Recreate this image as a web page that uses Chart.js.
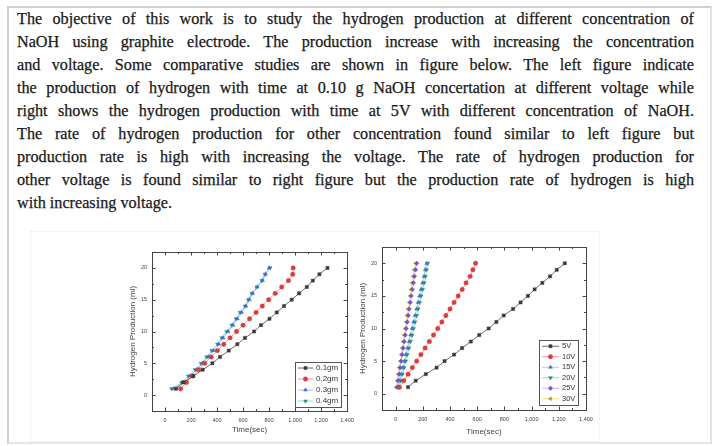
<!DOCTYPE html>
<html><head><meta charset="utf-8">
<script src="https://cdn.jsdelivr.net/npm/chart.js@4"></script>
<style>
html,body{margin:0;padding:0;background:#fff;}
body{width:713px;height:446px;position:relative;overflow:hidden;}
#frame{position:absolute;left:7px;top:6px;width:701px;height:434px;border:2px solid #cfcfcf;border-right-color:#e2e2e2;border-bottom-color:#e6e6e6;}
#text{position:absolute;left:17px;top:8px;width:677px;font-family:"Liberation Serif","Times New Roman",serif;font-size:16.2px;color:#1a1a1a;-webkit-text-stroke:0.25px #1a1a1a;}
#text div{height:23px;line-height:23px;text-align:justify;text-align-last:justify;}
#text div.last{text-align-last:left;}
#figbox{position:absolute;left:30px;top:231px;width:568px;height:209px;border:1px dotted #ececec;}
canvas{position:absolute;}
#c1{left:120px;top:240px;}
#c2{left:350px;top:235px;}
</style>
</head>
<body>
<div id="frame"></div>
<div id="text">
<div>The objective of this work is to study the hydrogen production at different concentration of</div>
<div>NaOH using graphite electrode. The production increase with increasing the concentration</div>
<div>and voltage. Some comparative studies are shown in figure below. The left figure indicate</div>
<div>the production of hydrogen with time at 0.10 g NaOH concertation at different voltage while</div>
<div>right shows the hydrogen production with time at 5V with different concentration of NaOH.</div>
<div>The rate of hydrogen production for other concentration found similar to left figure but</div>
<div>production rate is high with increasing the voltage. The rate of hydrogen production for</div>
<div>other voltage is found similar to right figure but the production rate of hydrogen is high</div>
<div class="last">with increasing voltage.</div>
</div>
<div id="figbox"></div>
<canvas id="c1" width="240" height="205"></canvas>
<canvas id="c2" width="250" height="210"></canvas>
<script>
// ---------- data ----------
const volumeML = [1,2,3,4,5,6,7,8,9,10,11,12,13,14,15,16,17,18,19,20];
const xTickLabels = [0,200,400,600,800,1000,1200,1400];
const yTickLabels = [0,5,10,15,20];
const xTitle = 'Time(sec)';
const yTitle = 'Hydrogen Production (ml)';

// left figure: concentration series (time in sec to reach each volume)
const concLabels = ['0.1gm','0.2gm','0.3gm','0.4gm'];
const time01g = [85,141,218,290,364,423,490,556,615,685,738,803,859,915,974,1031,1090,1136,1187,1249];
const time02g = [120,165,212,258,305,355,403,452,500,550,600,650,700,748,797,847,897,949,982,985];
const time03g = [65,140,192,243,290,333,372,414,447,485,523,556,588,622,648,674,710,750,772,800];
const time04g = [51,128,179,231,277,320,359,403,436,474,513,546,577,615,641,667,705,744,769,808];

// right figure: voltage series
const voltLabels = ['5V','10V','15V','20V','25V','30V'];
const time5V  = [91,148,222,301,360,430,489,553,615,684,741,795,864,919,973,1022,1079,1136,1185,1244];
const time10V = [28,60,92,123,155,186,217,248,279,310,340,370,400,430,460,490,518,548,568,588];
const time15V = [18,30,42,53,65,76,88,99,110,121,132,143,154,165,176,187,198,209,218,228];
const time20V = [25,38,50,62,74,86,98,110,121,132,143,155,166,177,188,199,210,220,228,236];
const time25V = [10,18,26,33,41,48,56,63,71,78,86,93,100,108,115,123,131,139,147,155];
const time30V = [5,13,20,27,35,42,49,56,63,71,78,85,92,100,107,114,121,128,136,148];

// ---------- helpers ----------
const FONT = '"Liberation Sans", Arial, sans-serif';
function toPts(times){ return times.map((t,i)=>({x:t, y:volumeML[i]})); }
function ds(label, times, color, lineColor, style, rot){
  return {label, data: toPts(times), showLine:true, borderColor: lineColor, borderWidth:1,
    backgroundColor: color, pointBackgroundColor: color, pointBorderColor: color,
    pointBorderWidth: 0.5, pointRadius: 2.2, pointStyle: style, pointRotation: rot||0, tension:0};
}

const frameTicks = {
  id:'frameTicks',
  afterDraw(chart){
    const ctx = chart.ctx, ca = chart.chartArea;
    const xs = chart.scales.x, ys = chart.scales.y;
    ctx.save();
    ctx.strokeStyle = '#444'; ctx.lineWidth = 1;
    ctx.strokeRect(Math.round(ca.left)+0.5, Math.round(ca.top)+0.5, Math.round(ca.right-ca.left), Math.round(ca.bottom-ca.top));
    const mids = arr => { const r=[]; const st = arr[1]-arr[0]; r.push(arr[0]-st/2); for(let i=0;i<arr.length;i++) r.push(arr[i]+st/2); return r; };
    const tick = (v, isX, len) => {
      if (isX) {
        if (v < xs.min || v > xs.max) return;
        const p = Math.round(xs.getPixelForValue(v))+0.5;
        ctx.beginPath(); ctx.moveTo(p, ca.bottom); ctx.lineTo(p, ca.bottom-len);
        ctx.moveTo(p, ca.top); ctx.lineTo(p, ca.top+len); ctx.stroke();
      } else {
        if (v < ys.min || v > ys.max) return;
        const p = Math.round(ys.getPixelForValue(v))+0.5;
        ctx.beginPath(); ctx.moveTo(ca.left, p); ctx.lineTo(ca.left+len, p);
        ctx.moveTo(ca.right, p); ctx.lineTo(ca.right-len, p); ctx.stroke();
      }
    };
    xTickLabels.forEach(v=>tick(v,true,3.5));
    mids(xTickLabels).forEach(v=>tick(v,true,2));
    yTickLabels.forEach(v=>tick(v,false,3.5));
    mids(yTickLabels).forEach(v=>tick(v,false,2));
    ctx.restore();
  }
};

const insideLegend = {
  id:'insideLegend',
  afterDraw(chart, args, o){
    const ctx = chart.ctx, ca = chart.chartArea;
    const list = chart.data.datasets;
    ctx.save();
    ctx.font = o.fontSize + 'px ' + FONT;
    let maxW = 0; list.forEach(d => maxW = Math.max(maxW, ctx.measureText(d.label).width));
    const w = o.padL + o.lineW + o.gap + maxW + o.padR;
    const h = o.padT + list.length*o.rowH + o.padB;
    const x0 = Math.round(ca.right - o.right - w), y0 = Math.round(ca.bottom - o.bottom - h);
    ctx.strokeStyle = '#555'; ctx.lineWidth = 1;
    ctx.strokeRect(x0+0.5, y0+0.5, Math.round(w), Math.round(h));
    list.forEach((d,i)=>{
      const cy = y0 + o.padT + o.rowH*(i+0.5);
      const lx = x0 + o.padL;
      ctx.strokeStyle = d.borderColor; ctx.lineWidth = 1;
      ctx.beginPath(); ctx.moveTo(lx, cy); ctx.lineTo(lx+o.lineW, cy); ctx.stroke();
      ctx.fillStyle = d.pointBackgroundColor; ctx.strokeStyle = d.pointBorderColor; ctx.lineWidth = 0.5;
      Chart.helpers.drawPoint(ctx, {pointStyle:d.pointStyle, rotation:d.pointRotation, radius:d.pointRadius, borderWidth:0.5}, lx+o.lineW/2, cy);
      ctx.fillStyle = '#333'; ctx.textBaseline = 'middle'; ctx.textAlign = 'left';
      ctx.fillText(d.label, lx+o.lineW+o.gap, cy);
    });
    ctx.restore();
  }
};

function makeChart(id, datasets, pad, xH, xTitlePad, legendOpts){
  return new Chart(document.getElementById(id), {
    type:'scatter',
    data:{datasets},
    plugins:[frameTicks, insideLegend],
    options:{
      responsive:false, animation:false, devicePixelRatio:1,
      layout:{padding:pad},
      plugins:{legend:{display:false}, tooltip:{enabled:false}, insideLegend: legendOpts},
      scales:{
        x:{type:'linear', min:-100, max:1400,
           afterBuildTicks: s => { s.ticks = xTickLabels.map(v=>({value:v})); },
           afterFit: s => { s.height = xH; },
           grid:{display:false, drawTicks:false}, border:{display:false},
           ticks:{font:{family:FONT, size:5.5}, color:'#444', padding:6, maxRotation:0, autoSkip:false},
           title:{display:true, text:xTitle, font:{family:FONT, size:8}, color:'#444', padding:{top:0, bottom:xTitlePad}}},
        y:{type:'linear', min:-2.5, max:22.5,
           afterBuildTicks: s => { s.ticks = yTickLabels.map(v=>({value:v})); },
           afterFit: s => { s.width = 32; },
           grid:{display:false, drawTicks:false}, border:{display:false},
           ticks:{font:{family:FONT, size:5.5}, color:'#444', padding:5, autoSkip:false},
           title:{display:true, text:yTitle, font:{family:FONT, size:8}, color:'#444', padding:{top:8, bottom:0}}}
      }
    }
  });
}

makeChart('c1', [
  ds(concLabels[0], time01g, '#3a3a3a', 'rgba(60,60,60,0.75)', 'rect'),
  ds(concLabels[1], time02g, '#d83c3c', 'rgba(255,80,80,0.6)', 'circle'),
  ds(concLabels[2], time03g, '#3c6ed8', 'rgba(90,140,255,0.55)', 'triangle'),
  ds(concLabels[3], time04g, '#2a8a70', 'rgba(60,210,190,0.6)', 'triangle', 180)
], {top:12, right:12, left:0, bottom:0}, 34, 10,
  {fontSize:8, rowH:11, padT:0.5, padB:0.5, padL:3, lineW:15, gap:3, padR:3, right:6, bottom:4});

makeChart('c2', [
  ds(voltLabels[0], time5V,  '#3a3a3a', 'rgba(60,60,60,0.75)', 'rect'),
  ds(voltLabels[1], time10V, '#d83c3c', 'rgba(255,80,80,0.6)', 'circle'),
  ds(voltLabels[2], time15V, '#3c7ab4', 'rgba(90,170,230,0.55)', 'triangle'),
  ds(voltLabels[3], time20V, '#2a8a70', 'rgba(60,200,170,0.6)', 'triangle', 180),
  ds(voltLabels[4], time25V, '#7a50c8', 'rgba(160,120,230,0.5)', 'rectRot'),
  ds(voltLabels[5], time30V, '#b4a020', 'rgba(230,200,60,0.6)', 'triangle', 270)
], {top:12, right:14, left:0, bottom:0}, 35, 8,
  {fontSize:7.5, rowH:10.5, padT:1, padB:1, padL:3, lineW:17, gap:3, padR:3, right:8, bottom:5});
</script>
</body></html>
